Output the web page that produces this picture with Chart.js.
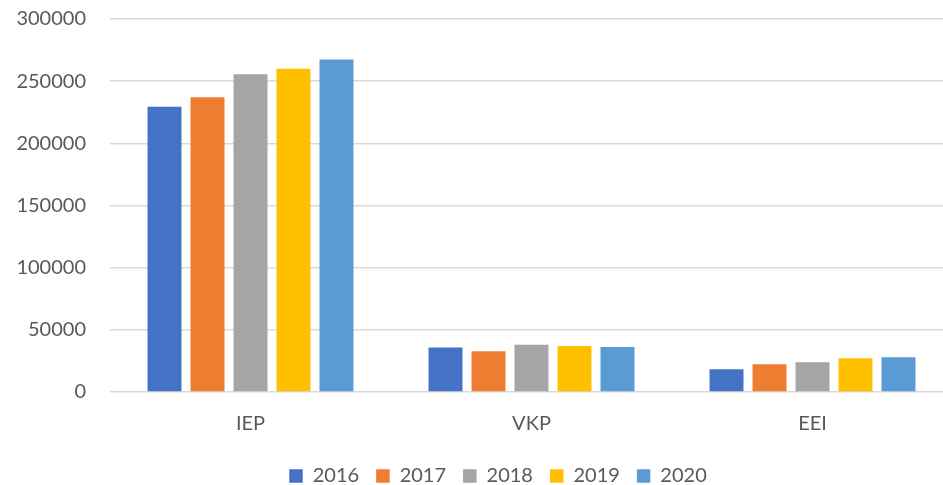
<!DOCTYPE html>
<html>
<head>
<meta charset="utf-8">
<script src="https://cdn.jsdelivr.net/npm/chart.js@4"></script>
<style>
  html, body { margin: 0; padding: 0; background: #fff; overflow: hidden; }
</style>
</head>
<body>
<canvas id="barChart" width="953" height="496"></canvas>
<script>
// Categories and yearly values
const categories = ['IEP', 'VKP', 'EEI'];
const years = ['2016', '2017', '2018', '2019', '2020'];
const values2016 = [229500, 35800, 18200];
const values2017 = [237000, 32700, 22400];
const values2018 = [255500, 38000, 24000];
const values2019 = [260000, 36900, 27200];
const values2020 = [267500, 36100, 28000];
const yTicks = [0, 50000, 100000, 150000, 200000, 250000, 300000];

const seriesValues = [values2016, values2017, values2018, values2019, values2020];
const colors = ['#4472C4', '#ED7D31', '#A5A5A5', '#FFC000', '#5B9BD5'];

Chart.defaults.font.family = 'Lato, "Open Sans", sans-serif';
Chart.defaults.font.size = 20;
Chart.defaults.color = '#595959';

// legend is centred on the plot + left margin, not the whole canvas
const legendShift = {
    id: 'legendShift',
    afterLayout(chart) {
        chart.legend.left = 43;
    }
};

const ctx = document.getElementById('barChart').getContext('2d');
const barChart = new Chart(ctx, {
    type: 'bar',
    data: {
        labels: categories,
        datasets: years.map((year, i) => ({
            label: year,
            data: seriesValues[i],
            backgroundColor: colors[i],
            borderWidth: 0,
            categoryPercentage: 0.765,
            barPercentage: 0.79
        }))
    },
    options: {
        responsive: false,
        animation: false,
        layout: {
            padding: { top: 19, left: 0, right: 0, bottom: 0 }
        },
        scales: {
            x: {
                grid: { display: false, drawTicks: false },
                border: { display: false },
                ticks: { padding: 20 },
                afterFit: function(scale) { scale.height = 57; }
            },
            y: {
                min: 0,
                max: 300000,
                afterBuildTicks: function(scale) {
                    scale.ticks = yTicks.map(v => ({ value: v }));
                },
                grid: { color: '#D9D9D9', lineWidth: 1.5, drawTicks: true, tickLength: 24, tickColor: 'rgba(0,0,0,0)' },
                border: { display: false },
                ticks: {
                    padding: 0,
                    callback: function(value) { return String(value); }
                },
                afterFit: function(scale) { scale.width = 110; }
            }
        },
        plugins: {
            legend: {
                position: 'bottom',
                labels: {
                    boxWidth: 13.5,
                    boxHeight: 13.5,
                    padding: 17
                }
            },
            tooltip: { enabled: false }
        }
    },
    plugins: [legendShift]
});
</script>
</body>
</html>
